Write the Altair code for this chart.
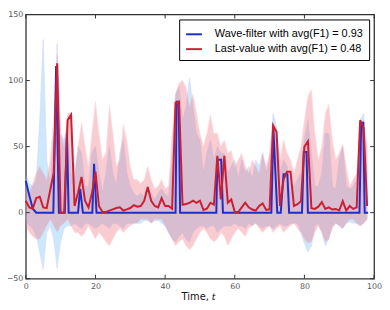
import altair as alt
import pandas as pd

LABEL_BLUE = "Wave-filter with avg(F1) = 0.93"
LABEL_RED = "Last-value with avg(F1) = 0.48"

# Wave-filter line (vertices)
blue_t = [0, 1, 2, 3, 7.9, 8.7, 9.5, 11.2, 11.8, 12.3, 15, 15.6, 16.4, 19.1, 19.6, 20.3,
          43, 43.3, 43.9, 44.3, 54.7, 55, 56.1, 56.6, 70.5, 71.1, 72.2, 73.2, 74, 75.1, 75.6,
          79.3, 79.8, 80.6, 81, 95.8, 96.3, 96.9, 97.3, 98.3]
blue_v = [24, 13, 3, 0, 0, 111, 0, 0, 60, 0, 0, 18, 0, 0, 37, 0,
          0, 84, 84, 0, 0, 40, 40, 0, 0, 63, 0, 0, 29, 29, 0,
          0, 46, 46, 0, 0, 68, 68, 0, 0]

# Last-value line, t = 0..98
t_grid = list(range(99))
red_v = [9, 4, 3, 11, 12, 4, 3.5, 17, 30, 113,
         0, 0, 70, 74, 5, 15, 27, 9, 4, 15,
         31, 5, 0.5, 0.5, 1.5, 2.5, 3.5, 4, 1.6, 2.5,
         3.5, 5.7, 4.5, 5, 9, 19.4, 9, 5, 4, 11,
         5, 5, 3, 83, 84, 6, 6.5, 7.5, 9, 7.5,
         9, 2, 3, 7.5, 6, 43, 10, 43, 7.5, 10,
         0.5, 0.5, 4, 7.6, 4, 2.4, 1.6, 5, 7, 2,
         2.5, 66, 61, 5, 25, 31, 31, 5, 6.4, 8.7,
         50, 54, 3.3, 2.8, 4.5, 8, 2.8, 4, 2.4, 2.8,
         1.6, 8.7, 1.6, 5, 2.8, 4, 70, 64, 5]

# Bands (spread over runs)
blue_hi = [28, 22, 20, 25, 70, 131, 40, 20, 60, 128,
           60, 55, 65, 30, 25, 50, 45, 20, 20, 45,
           50, 30, 15, 30, 50, 30, 20, 45, 55, 30,
           20, 15, 12, 15, 12, 18, 15, 10, 15, 18,
           14, 12, 40, 90, 95, 70, 80, 102, 80, 60,
           55, 30, 45, 55, 40, 50, 45, 45, 30, 35,
           40, 25, 40, 30, 35, 25, 40, 35, 45, 30,
           40, 75, 65, 30, 40, 35, 20, 20, 25, 30,
           55, 70, 45, 20, 20, 30, 60, 60, 20, 18,
           40, 50, 20, 18, 20, 25, 70, 75, 30]
blue_lo = [-5, -10, -12, -18, -30, -43, -15, -10, -20, -42,
           -22, -12, -10, -10, -8, -10, -12, -8, -8, -10,
           -12, -10, -8, -10, -12, -8, -8, -10, -12, -8,
           -8, -8, -8, -8, -6, -6, -8, -6, -6, -8,
           -10, -15, -20, -22, -18, -15, -20, -22, -15, -12,
           -10, -10, -12, -10, -10, -15, -12, -10, -10, -10,
           -8, -10, -10, -12, -8, -10, -8, -10, -12, -10,
           -10, -12, -10, -8, -10, -10, -8, -8, -8, -15,
           -23, -30, -25, -10, -8, -15, -25, -20, -10, -8,
           -10, -12, -8, -7, -8, -8, -10, -8, -5]
red_hi = [20, 15, 22, 30, 35, 30, 25, 40, 70, 120,
          60, 50, 75, 76, 30, 50, 68, 50, 35, 60,
          84, 60, 40, 45, 81, 60, 35, 40, 67, 55,
          35, 25, 25, 22, 25, 35, 25, 18, 20, 25,
          18, 20, 60, 90, 98, 100, 95, 80, 90, 75,
          60, 50, 60, 74, 60, 60, 50, 55, 45, 47,
          35, 40, 45, 35, 30, 40, 35, 30, 45, 35,
          45, 68, 62, 40, 55, 45, 40, 30, 40, 50,
          70, 88, 93, 60, 40, 50, 75, 82, 55, 40,
          45, 52, 35, 20, 25, 30, 68, 70, 50]
red_lo = [-10, -15, -18, -20, -20, -15, -10, -5, -10, -15,
          -10, -8, -5, -10, -15, -15, -18, -15, -10, -15,
          -20, -15, -18, -22, -25, -20, -15, -12, -15, -12,
          -10, -8, -8, -5, -5, -5, -8, -5, -5, -5,
          -10, -15, -20, -25, -22, -20, -25, -28, -25, -20,
          -15, -12, -15, -20, -22, -20, -15, -18, -25, -20,
          -15, -12, -15, -18, -12, -10, -8, -12, -15, -12,
          -10, -15, -12, -10, -15, -12, -10, -8, -12, -15,
          -20, -23, -22, -15, -10, -15, -22, -20, -12, -8,
          -10, -12, -8, -5, -5, -8, -10, -8, -5]

x_ticks = [0, 20, 40, 60, 80, 100]
y_ticks = [-50, 0, 50, 100, 150]

W, H = 352, 267
FRAME = "#333333"

df_blue = pd.DataFrame({"t": blue_t, "v": blue_v, "series": LABEL_BLUE})
df_red = pd.DataFrame({"t": t_grid, "v": red_v, "series": LABEL_RED})
df_band = pd.DataFrame({"t": t_grid, "blo": blue_lo, "bhi": blue_hi, "rlo": red_lo, "rhi": red_hi})
df_xt = pd.DataFrame({"t": x_ticks})
df_yt = pd.DataFrame({"v": y_ticks})

xs = alt.Scale(domain=[0, 100], nice=False, zero=False)
ys = alt.Scale(domain=[-50, 150], nice=False, zero=False)

x_axis = alt.Axis(values=x_ticks, title=None, ticks=False, domain=False, grid=False,
                  labelFlush=False, labelColor="#555555", labelFont="DejaVu Sans",
                  labelFontSize=8, labelPadding=4)
y_axis = alt.Axis(values=y_ticks, title=None, ticks=False, domain=False, grid=False,
                  labelFlush=False, labelColor="#555555", labelFont="DejaVu Sans",
                  labelFontSize=8, labelPadding=3)

color = alt.Color("series:N", title=None,
                  scale=alt.Scale(domain=[LABEL_BLUE, LABEL_RED], range=["#1f2ec8", "#cc1f33"]),
                  legend=alt.Legend(title=None))

band_blue = alt.Chart(df_band).mark_area(
    color="#7fc8f8", opacity=0.4, stroke="#a0a0ee", strokeWidth=0.8, strokeOpacity=0.8
).encode(x=alt.X("t:Q", scale=xs, axis=x_axis), y=alt.Y("blo:Q", scale=ys, axis=y_axis), y2="bhi:Q")

band_red = alt.Chart(df_band).mark_area(
    color="#f07080", opacity=0.35, stroke="#f4a0aa", strokeWidth=0.8, strokeOpacity=0.8
).encode(x=alt.X("t:Q", scale=xs), y=alt.Y("rlo:Q", scale=ys), y2="rhi:Q")

line_blue = alt.Chart(df_blue).mark_line(strokeWidth=2).encode(
    x=alt.X("t:Q", scale=xs), y=alt.Y("v:Q", scale=ys), color=color)
line_red = alt.Chart(df_red).mark_line(strokeWidth=2).encode(
    x=alt.X("t:Q", scale=xs), y=alt.Y("v:Q", scale=ys), color=color)

tick_b = alt.Chart(df_xt).mark_rule(color=FRAME, strokeWidth=1).encode(
    x=alt.X("t:Q", scale=xs), y=alt.value(H), y2=alt.value(H - 4))
tick_t = alt.Chart(df_xt).mark_rule(color=FRAME, strokeWidth=1).encode(
    x=alt.X("t:Q", scale=xs), y=alt.value(0), y2=alt.value(4))
tick_l = alt.Chart(df_yt).mark_rule(color=FRAME, strokeWidth=1).encode(
    y=alt.Y("v:Q", scale=ys), x=alt.value(0), x2=alt.value(4))
tick_r = alt.Chart(df_yt).mark_rule(color=FRAME, strokeWidth=1).encode(
    y=alt.Y("v:Q", scale=ys), x=alt.value(W), x2=alt.value(W - 4))

title_a = alt.Chart(pd.DataFrame({"s": ["Time,"]})).mark_text(
    align="right", baseline="middle", font="DejaVu Sans", fontSize=10, color="#111111"
).encode(text="s:N", x=alt.value(W / 2 + 9), y=alt.value(H + 19))
title_b = alt.Chart(pd.DataFrame({"s": ["t"]})).mark_text(
    align="left", baseline="middle", font="DejaVu Serif", fontSize=10, fontStyle="italic", color="#111111"
).encode(text="s:N", x=alt.value(W / 2 + 12), y=alt.value(H + 19))

chart = alt.layer(
    band_blue, band_red, line_blue, line_red, tick_b, tick_t, tick_l, tick_r, title_a, title_b
).properties(
    width=W, height=H,
    autosize=alt.AutoSizeParams(type="none"),
    padding={"left": 18, "top": 5, "right": 8, "bottom": 24},
).configure_view(
    stroke=FRAME, strokeWidth=1.3
).configure_legend(
    orient="top-right", offset=5, strokeColor="black", strokeWidth=1, fillColor="white",
    padding=6, cornerRadius=0, labelFont="Liberation Sans", labelFontSize=11, labelColor="black",
    symbolType="stroke", symbolStrokeWidth=2, symbolSize=256, labelOffset=12, rowPadding=1,
    labelLimit=300
)

chart.save("out.html", embed_options={"renderer": "svg", "actions": False})
